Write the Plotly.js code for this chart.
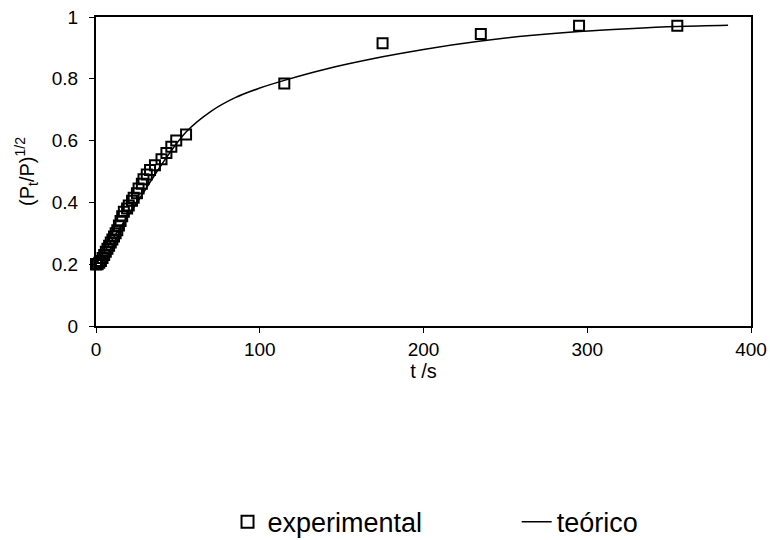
<!DOCTYPE html>
<html>
<head>
<meta charset="utf-8">
<script src="https://cdn.plot.ly/plotly-3.0.1.min.js"></script>
<style>
  html, body { margin: 0; padding: 0; background: #fff; }
  #chart { width: 770px; height: 540px; }
</style>
</head>
<body>
<div id="chart"></div>
<script>
// Measured points: time (s) and (Pt/P)^1/2
const tExp = [0, 0, 1, 2, 3, 4, 5, 6, 7, 8, 9, 10, 11, 12, 13, 14, 15, 16, 17, 19, 20, 22, 23, 25, 26, 28, 29, 31, 33, 36, 40, 43, 46, 49, 55, 115, 175, 235, 295, 355];
const yExp = [0.2, 0.2, 0.2, 0.205, 0.21, 0.22, 0.23, 0.24, 0.25, 0.26, 0.27, 0.28, 0.29, 0.30, 0.31, 0.325, 0.34, 0.355, 0.37, 0.38, 0.39, 0.405, 0.415, 0.43, 0.445, 0.46, 0.475, 0.49, 0.505, 0.52, 0.54, 0.56, 0.58, 0.60, 0.62, 0.785, 0.915, 0.945, 0.972, 0.972];

// Theoretical curve, sampled along t
const tTeo = [0, 10, 20, 30, 40, 55, 70, 85, 100, 115, 140, 175, 200, 235, 265, 295, 325, 355, 386];
const yTeo = [0.2, 0.28, 0.36, 0.44, 0.522, 0.628, 0.694, 0.739, 0.77, 0.795, 0.831, 0.871, 0.895, 0.922, 0.94, 0.953, 0.962, 0.969, 0.973];

const FONT = 'Liberation Sans, Arial, sans-serif';

const traces = [
  {
    name: 'experimental',
    legend: 'legend',
    x: tExp, y: yExp,
    type: 'scatter', mode: 'markers',
    cliponaxis: false,
    marker: { symbol: 'square-open', size: 10, color: '#000', line: { width: 2, color: '#000' } }
  },
  {
    name: 'teórico',
    legend: 'legend2',
    x: tTeo, y: yTeo,
    type: 'scatter', mode: 'lines',
    line: { color: '#000', width: 1.5, shape: 'spline', smoothing: 1 }
  }
];

const axisCommon = {
  showgrid: false, zeroline: false,
  showline: true, linecolor: '#000', linewidth: 2, mirror: true,
  ticks: 'outside', ticklen: 5, tickwidth: 1, tickcolor: '#000',
  tickfont: { family: FONT, size: 19, color: '#000' }
};

const legendCommon = {
  orientation: 'h',
  xanchor: 'left',
  yref: 'container', y: 0.033, yanchor: 'middle',
  font: { family: FONT, size: 27, color: '#000' },
  bgcolor: 'rgba(0,0,0,0)', borderwidth: 0
};

const layout = {
  width: 770, height: 540,
  margin: { l: 96, r: 19, t: 17, b: 214, autoexpand: false },
  paper_bgcolor: '#fff', plot_bgcolor: '#fff',
  font: { family: FONT, size: 19, color: '#000' },
  xaxis: Object.assign({}, axisCommon, {
    range: [0, 400], dtick: 100, tick0: 0,
    title: { text: 't /s', font: { family: FONT, size: 20, color: '#000' }, standoff: 0 }
  }),
  yaxis: Object.assign({}, axisCommon, {
    range: [0, 1], dtick: 0.2, tick0: 0,
    ticklabelposition: 'outside',
    ticklabelstandoff: 7,
    title: { text: '(P<sub>t</sub>/P)<sup>1/2</sup>', font: { family: FONT, size: 20, color: '#000' }, standoff: 12 }
  }),
  showlegend: true,
  legend: Object.assign({}, legendCommon, { x: 0.2008, itemsizing: 'constant' }),
  legend2: Object.assign({}, legendCommon, { x: 0.6423 })
};

Plotly.newPlot('chart', traces, layout, { displayModeBar: false, staticPlot: true });
</script>
</body>
</html>
